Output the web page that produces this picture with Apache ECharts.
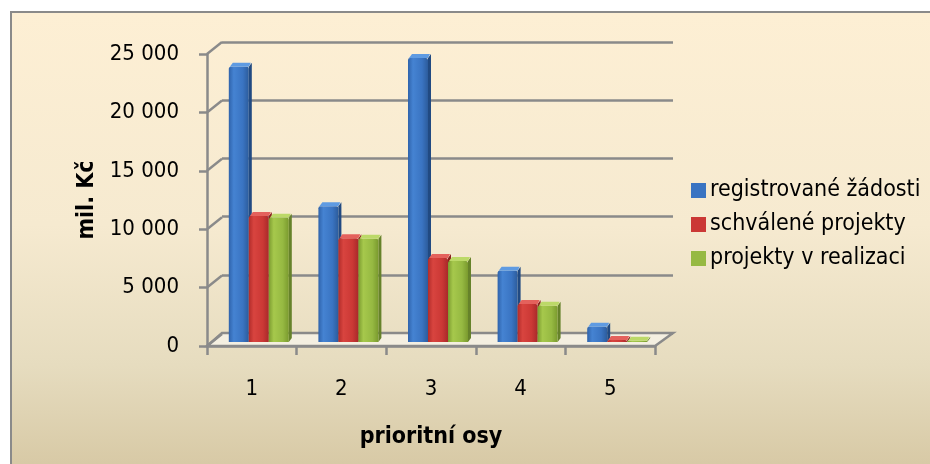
<!DOCTYPE html>
<html>
<head>
<meta charset="utf-8">
<script src="https://cdn.jsdelivr.net/npm/echarts@6/dist/echarts.min.js"></script>
<style>
  html, body { margin: 0; padding: 0; background: #fff; }
  #frame {
    position: absolute; left: 10px; top: 11px; width: 940px; height: 470px;
    border: 2px solid #8a8a8a;
    background: linear-gradient(to bottom, #fdefd4 0%, #f6ead0 45%, #e6dcbf 75%, #d5c6a1 100%);
  }
  #chart { position: absolute; left: 0; top: 0; width: 930px; height: 464px; }
</style>
</head>
<body>
<div id="frame"></div>
<div id="chart"></div>
<script>
    //kategorie (prioritní osy)
    let categories = ['1', '2', '3', '4', '5'];
    //hodnoty v mil. Kč
    let registrovane = [23600, 11650, 24350, 6100, 1300];
    let schvalene = [10800, 8900, 7200, 3250, 170];
    let realizace = [10650, 8850, 6950, 3100, 110];
    //popisky osy Y
    let yTicks = [0, 5000, 10000, 15000, 20000, 25000];
    let yTickLabels = ['0', '5 000', '10 000', '15 000', '20 000', '25 000'];

    let font = '"DejaVu Sans Condensed", "Liberation Sans Narrow", sans-serif';
    let gray = '#8a8a8a';

    let myChart = echarts.init(document.getElementById('chart'));

    //barvy sloupcu: predni strana, bok, vrsek
    let palette = [
        { front: ['#2f63ab', '#4583d2', '#3a74c2', '#2c5c9c'], side: '#214a82', top: '#5f9be2', legend: '#3a74c2' },
        { front: ['#b22c2a', '#d8443f', '#cb3835', '#a8292a'], side: '#8a201e', top: '#e4615c', legend: '#cb3835' },
        { front: ['#7c9c30', '#a6c84c', '#96b942', '#7a9a2e'], side: '#66822a', top: '#bcd968', legend: '#96b942' }
    ];

    function barSeries(name, data, k) {
        let pal = palette[k];
        return {
            name: name,
            type: 'custom',
            xAxisIndex: 2,
            yAxisIndex: 2,
            itemStyle: { color: pal.legend },
            data: data.map(function (v, i) { return [i, v]; }),
            z: 5 + k,
            renderItem: function (params, api) {
                let base = api.coord([api.value(0), 0]);
                let top = api.coord([api.value(0), api.value(1)]);
                let w = 20, dx = 3, dy = -4;
                let x0 = base[0] - 30 + k * w;
                let y1 = top[1], y0 = base[1];
                return {
                    type: 'group',
                    children: [
                        {
                            type: 'polygon',
                            shape: { points: [[x0 + w, y1], [x0 + w + dx, y1 + dy], [x0 + w + dx, y0 + dy], [x0 + w, y0]] },
                            style: { fill: pal.side }
                        },
                        {
                            type: 'rect',
                            shape: { x: x0, y: y1, width: w, height: y0 - y1, r: [2, 2, 0, 0] },
                            style: {
                                fill: new echarts.graphic.LinearGradient(0, 0, 1, 0, [
                                    { offset: 0, color: pal.front[0] },
                                    { offset: 0.25, color: pal.front[1] },
                                    { offset: 0.7, color: pal.front[2] },
                                    { offset: 1, color: pal.front[3] }
                                ])
                            }
                        },
                        {
                            type: 'polygon',
                            shape: { points: [[x0 + 1, y1], [x0 + dx + 1, y1 + dy], [x0 + w + dx - 1, y1 + dy], [x0 + w, y1]] },
                            style: { fill: pal.top }
                        }
                    ]
                };
            }
        };
    }

    var option = {
        animation: false,
        legend: {
            orient: 'vertical',
            left: 686,
            top: 174,
            itemWidth: 15,
            itemHeight: 15,
            itemGap: 11,
            icon: 'rect',
            textStyle: { fontFamily: font, fontSize: 23, color: '#000', padding: [0, 0, 0, -1] },
            data: ['registrované žádosti', 'schválené projekty', 'projekty v realizaci']
        },
        grid: [
            //zadni stena
            { left: 222, top: 42, width: 451, height: 291 },
            //predni osy
            { left: 207, top: 54, width: 448, height: 292 },
            //sloupce
            { left: 214, top: 50.5, width: 448, height: 291.5 }
        ],
        xAxis: [
            { gridIndex: 0, type: 'category', data: categories, show: false },
            {
                gridIndex: 1, type: 'category', data: categories,
                axisLine: { show: true, lineStyle: { color: gray, width: 2.5 } },
                axisTick: { show: true, length: 9, interval: 0, lineStyle: { color: gray, width: 2.5 } },
                axisLabel: { margin: 32, fontFamily: font, fontSize: 22, color: '#000' },
                name: 'prioritní osy',
                nameLocation: 'middle',
                nameGap: 80,
                nameTextStyle: { fontFamily: font, fontSize: 23, fontWeight: 'bold', color: '#000' }
            },
            { gridIndex: 2, type: 'category', data: categories, show: false }
        ],
        yAxis: [
            {
                gridIndex: 0, type: 'value', min: 0, max: 25000, interval: 5000,
                axisLine: { show: false }, axisTick: { show: false }, axisLabel: { show: false },
                splitLine: { show: true, lineStyle: { color: gray, width: 2.5 } }
            },
            {
                gridIndex: 1, type: 'value', min: 0, max: 25000, interval: 5000,
                axisLine: { show: true, lineStyle: { color: gray, width: 2.5 } },
                axisTick: { show: true, length: 8, lineStyle: { color: gray, width: 2.5 } },
                splitLine: { show: false },
                axisLabel: {
                    margin: 28, fontFamily: font, fontSize: 22, color: '#000',
                    formatter: function (v) { return yTickLabels[yTicks.indexOf(v)]; }
                },
                name: 'mil. Kč',
                nameLocation: 'middle',
                nameGap: 108,
                nameTextStyle: { fontFamily: font, fontSize: 23, fontWeight: 'bold', color: '#000' }
            },
            { gridIndex: 2, type: 'value', min: 0, max: 25000, show: false, splitLine: { show: false } }
        ],
        series: [
            //podlaha a bocni spojnice
            {
                type: 'custom',
                xAxisIndex: 1,
                yAxisIndex: 1,
                silent: true,
                z: 1,
                data: yTicks.map(function (v) { return [0, v]; }),
                renderItem: function (params, api) {
                    let cs = params.coordSys;
                    let y = api.coord([0, api.value(1)])[1];
                    let children = [{
                        type: 'line',
                        shape: { x1: cs.x, y1: y, x2: cs.x + 15, y2: y - 12 },
                        style: { stroke: gray, lineWidth: 2.5 }
                    }];
                    if (api.value(1) === 0) {
                        children.unshift({
                            type: 'polygon',
                            shape: { points: [[cs.x, y], [cs.x + cs.width, y], [cs.x + cs.width + 18, y - 13], [cs.x + 15, y - 13]] },
                            style: { fill: '#f4efe1', stroke: gray, lineWidth: 2.5 }
                        });
                    }
                    return { type: 'group', children: children };
                }
            },
            barSeries('registrované žádosti', registrovane, 0),
            barSeries('schválené projekty', schvalene, 1),
            barSeries('projekty v realizaci', realizace, 2)
        ]
    };

    myChart.setOption(option);
</script>
</body>
</html>
